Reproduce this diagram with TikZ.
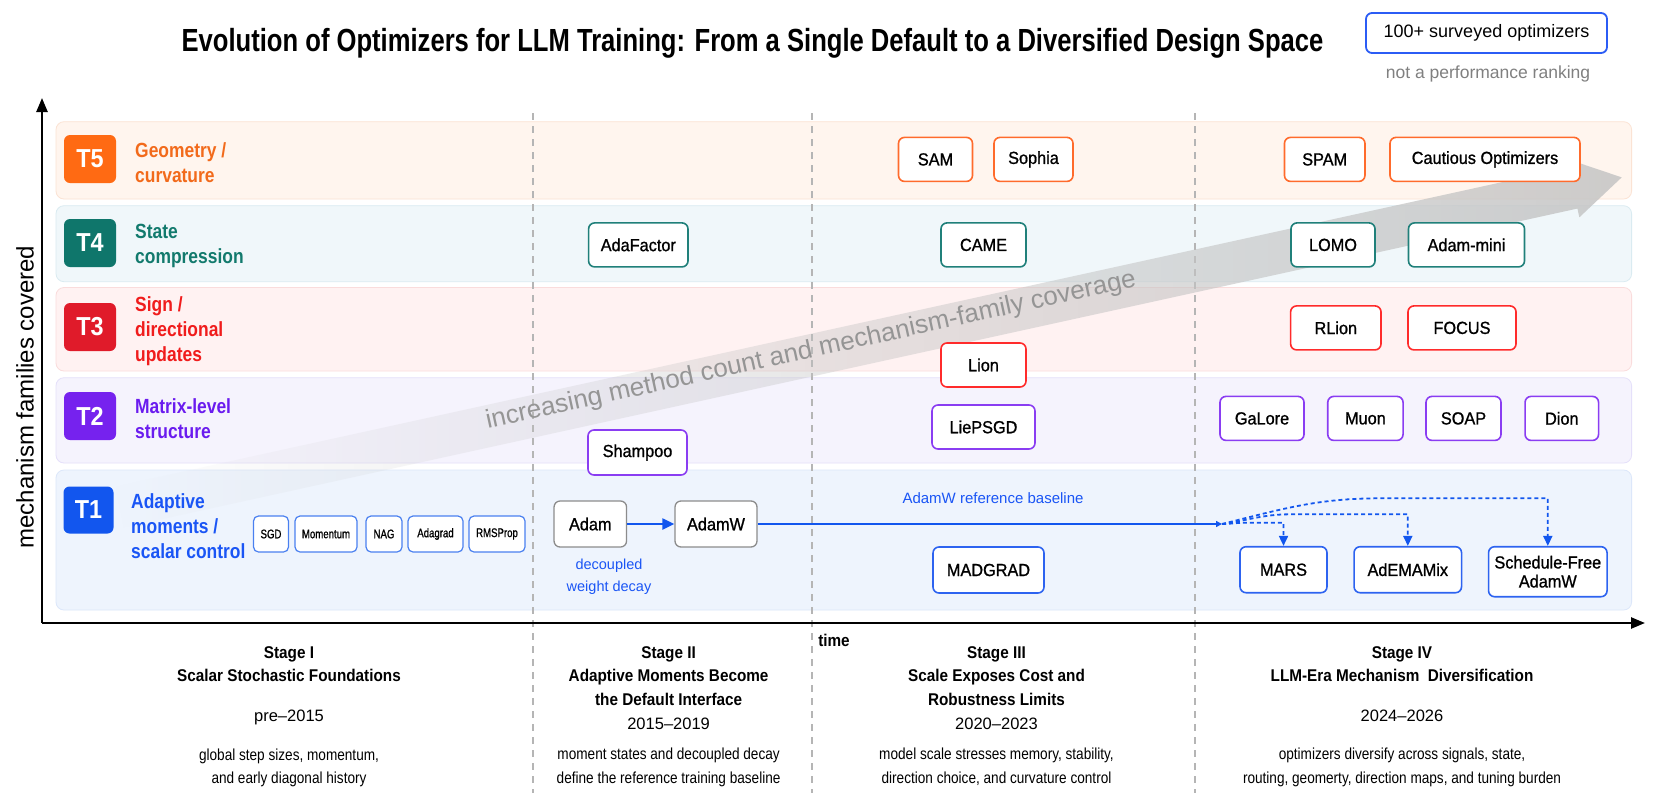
\documentclass[tikz,border=0pt]{standalone}
\usepackage{fontspec}
\setmainfont{Liberation Sans}
\newfontfamily\condA[FakeStretch=0.8]{Liberation Sans}
\newfontfamily\condB[FakeStretch=0.9]{Liberation Sans}
\newfontfamily\condC[FakeStretch=0.85]{Liberation Sans}
\newfontfamily\condD[FakeStretch=0.77,FakeBold=1.0]{Liberation Sans}
\newfontfamily\condM[FakeStretch=0.93,FakeBold=1.0]{Liberation Sans}
\usetikzlibrary{arrows.meta,fadings,calc}
\definecolor{t5c}{HTML}{FF6A13}\definecolor{t5t}{HTML}{F26A1B}
\definecolor{t5bg}{HTML}{FFF5EE}\definecolor{t5bd}{HTML}{FBE3D4}
\definecolor{t4c}{HTML}{0F766B}\definecolor{t4t}{HTML}{127A6D}
\definecolor{t4bg}{HTML}{F0F7FA}\definecolor{t4bd}{HTML}{DAEBF1}
\definecolor{t3c}{HTML}{E01B2A}\definecolor{t3t}{HTML}{F01C1C}
\definecolor{t3bg}{HTML}{FFF2F2}\definecolor{t3bd}{HTML}{FADCDC}
\definecolor{t2c}{HTML}{7622EE}\definecolor{t2t}{HTML}{6A1BEF}
\definecolor{t2bg}{HTML}{F5F3FD}\definecolor{t2bd}{HTML}{E5E0FA}
\definecolor{t1c}{HTML}{1256EE}\definecolor{t1t}{HTML}{1A55F5}
\definecolor{t1bg}{HTML}{EEF4FD}\definecolor{t1bd}{HTML}{DCE7FA}
\definecolor{b5}{HTML}{FF6B2C}\definecolor{b4}{HTML}{20807A}
\definecolor{b3}{HTML}{FF2B2B}\definecolor{b2}{HTML}{8A3DF2}
\definecolor{b1}{HTML}{2D63F0}\definecolor{bsm}{HTML}{4A80F0}
\definecolor{bgr}{HTML}{8C8C8C}\definecolor{divc}{HTML}{B5B5B5}
\definecolor{bandg}{HTML}{C4C4C4}\definecolor{bandt}{HTML}{959595}
\definecolor{lgd}{HTML}{2B5CF5}\definecolor{note}{HTML}{808080}
\tikzfading[name=bandfade, left color=transparent!100, middle color=transparent!20, right color=transparent!0]
\begin{document}
\begin{tikzpicture}[x=1pt,y=-1pt,
  lane/.style={rounded corners=8pt, line width=0.8pt},
  badge/.style={rounded corners=6pt, minimum width=52pt, minimum height=48pt, inner sep=0pt, text=white, font=\condB\bfseries\fontsize{26}{26}\selectfont},
  lanetxt/.style={anchor=west, align=left, inner sep=0pt, font=\condC\bfseries\fontsize{20.5}{25}\selectfont},
  opt/.style={draw, fill=white, rounded corners=6pt, line width=1.6pt, inner sep=0pt, minimum height=44pt, text=black, font=\condM\fontsize{17.5}{19}\selectfont},
  smallopt/.style={opt, draw=bsm, line width=1.2pt, rounded corners=5pt, minimum height=36pt, font=\condD\fontsize{12.5}{14}\selectfont},
  divider/.style={divc, line width=1.2pt, dash pattern=on 7pt off 6pt},
  axis/.style={line width=2.4pt, -{Triangle[length=14pt,width=11pt]}},
  stgt/.style={anchor=base, font=\condB\bfseries\fontsize{17}{20}\selectfont},
  stgy/.style={anchor=base, font=\fontsize{16.5}{20}\selectfont},
  stgc/.style={anchor=base, font=\condC\fontsize{16}{20}\selectfont},
  bline/.style={t1c, line width=2.2pt},
  dasharr/.style={t1c, line width=1.8pt, dash pattern=on 4pt off 3pt, -{Triangle[length=10pt,width=9pt]}}
]
\path[use as bounding box, fill=white] (0,0) rectangle (1664,806);

% title and legend
\node[anchor=base, inner sep=0pt, font=\condA\bfseries\fontsize{32}{38}\selectfont] (title) at (752.5,51.7) {Evolution of Optimizers for LLM Training: From a Single Default to a Diversified Design Space};
\node[draw=lgd, line width=1.8pt, rounded corners=6pt, minimum width=241pt, minimum height=40pt, inner sep=0pt, font=\fontsize{18}{20}\selectfont] (legend) at (1486.5,33) {100+ surveyed optimizers};
\node[text=note, font=\fontsize{17.5}{20}\selectfont] (legendnote) at (1488,74) {not a performance ranking};

% lanes
\path[lane, fill=t5bg, draw=t5bd] (56,121.7) rectangle (1631.6,199);
\path[lane, fill=t4bg, draw=t4bd] (56,205.7) rectangle (1631.6,281.7);
\path[lane, fill=t3bg, draw=t3bd] (56,287.5) rectangle (1631.6,371);
\path[lane, fill=t2bg, draw=t2bd] (56,377.7) rectangle (1631.6,463);
\path[lane, fill=t1bg, draw=t1bd] (56,470) rectangle (1631.6,610);

% stage dividers
\draw[divider] (533,113) -- (533,793);
\draw[divider] (812,113) -- (812,793);
\draw[divider] (1195,113) -- (1195,793);

% trend band
\begin{scope}[shift={(120,507)}, rotate=12.37]
\fill[bandg, fill opacity=0.85, path fading=bandfade] (0,-21) -- (1490,-21) -- (1490,-30) -- (1540,0) -- (1490,30) -- (1490,21) -- (0,21) -- cycle;
\end{scope}
\node[rotate=12.37, text=bandt, inner sep=0pt, font=\fontsize{26}{30}\selectfont] (bandlabel) at (811,351) {increasing method count and mechanism-family coverage};

% badges and lane labels
\node[badge, fill=t5c] (bt5) at (90,159) {T5};
\node[badge, fill=t4c] (bt4) at (90,243) {T4};
\node[badge, fill=t3c] (bt3) at (90,327) {T3};
\node[badge, fill=t2c] (bt2) at (90,416) {T2};
\node[badge, fill=t1c, minimum width=50pt, minimum height=47pt] (bt1) at (88.5,510) {T1};
\node[lanetxt, text=t5t] (l5) at (135,162.5) {Geometry /\\curvature};
\node[lanetxt, text=t4t] (l4) at (135,245.5) {State\\compression};
\node[lanetxt, text=t3t] (l3) at (135,331.5) {Sign /\\directional\\updates};
\node[lanetxt, text=t2t] (l2) at (135,419) {Matrix-level\\structure};
\node[lanetxt, text=t1t] (l1) at (131,526) {Adaptive\\moments /\\scalar control};

% optimizer boxes
\node[opt, draw=b5, minimum width=74pt] (sam) at (935.5,159.4) {SAM};
\node[opt, draw=b5, minimum width=79pt] (sophia) at (1033.5,159.4) {Sophia};
\node[opt, draw=b5, minimum width=80.5pt] (spam) at (1324.7,159.4) {SPAM};
\node[opt, draw=b5, minimum width=190pt] (cautious) at (1485,159.4) {Cautious Optimizers};
\node[opt, draw=b4, minimum width=99.4pt] (adafactor) at (638.3,244.9) {AdaFactor};
\node[opt, draw=b4, minimum width=85pt] (came) at (983.5,244.9) {CAME};
\node[opt, draw=b4, minimum width=84pt] (lomo) at (1333,244.9) {LOMO};
\node[opt, draw=b4, minimum width=116pt] (adammini) at (1466.5,244.9) {Adam-mini};
\node[opt, draw=b3, minimum width=90.4pt] (rlion) at (1335.8,327.9) {RLion};
\node[opt, draw=b3, minimum width=108pt] (focus) at (1462,327.9) {FOCUS};
\node[opt, draw=b3, minimum width=85pt] (lion) at (983.5,365) {Lion};
\node[opt, draw=b2, minimum width=103pt] (liepsgd) at (983.5,427) {LiePSGD};
\node[opt, draw=b2, minimum width=99pt, minimum height=45pt] (shampoo) at (637.5,452.5) {Shampoo};
\node[opt, draw=b2, minimum width=84pt] (galore) at (1262,418.4) {GaLore};
\node[opt, draw=b2, minimum width=75.3pt] (muon) at (1365.4,418.4) {Muon};
\node[opt, draw=b2, minimum width=75pt] (soap) at (1463.5,418.4) {SOAP};
\node[opt, draw=b2, minimum width=73.5pt] (dion) at (1561.8,418.4) {Dion};
\node[opt, draw=bgr, line width=1.3pt, minimum width=72.5pt, minimum height=46pt] (adam) at (590.3,524) {Adam};
\node[opt, draw=bgr, line width=1.3pt, minimum width=82pt, minimum height=46pt] (adamw) at (716,524) {AdamW};
\node[opt, draw=b1, minimum width=111pt, minimum height=46pt] (madgrad) at (988.5,570) {MADGRAD};
\node[opt, draw=b1, minimum width=87pt, minimum height=46pt] (mars) at (1283.5,569.7) {MARS};
\node[opt, draw=b1, minimum width=107.5pt, minimum height=46pt] (ademamix) at (1407.8,569.7) {AdEMAMix};
\node[opt, draw=b1, minimum width=118.5pt, minimum height=50pt, align=center] (sfree) at (1547.8,571.7) {Schedule-Free\\AdamW};
\node[smallopt, minimum width=35pt] (sgd) at (271,534) {SGD};
\node[smallopt, minimum width=62pt] (momentum) at (326,534) {Momentum};
\node[smallopt, minimum width=36pt] (nag) at (384,534) {NAG};
\node[smallopt, minimum width=55pt] (adagrad) at (435.5,534) {Adagrad};
\node[smallopt, minimum width=56pt] (rmsprop) at (497,534) {RMSProp};

% baseline connectors
\coordinate (split) at (1222,524);
\draw[bline, -{Triangle[length=12pt,width=11pt]}] (adam) -- (adamw);
\draw[bline, -{Triangle[length=6pt,width=6pt]}] (adamw) -- (split);
\draw[dasharr] (split) to[out=0,in=180] (1245,522.7) -| (mars.north);
\draw[dasharr] (split) to[out=8,in=180] (1290,514.3) -| (ademamix.north);
\draw[dasharr] (split) to[out=14,in=180] (1380,498.3) -| (sfree.north);
\node[text=t1t, font=\fontsize{15}{18}\selectfont] (baselinelbl) at (993,498) {AdamW reference baseline};
\node[text=t1t, align=center, inner sep=0pt, font=\fontsize{14.5}{22}\selectfont] (decay) at (609,577) {decoupled\\weight decay};

% axes
\coordinate (origin) at (42,623);
\coordinate (ytop) at (42,98);
\coordinate (xend) at (1645,623);
\draw[axis] (origin) -- (ytop);
\draw[axis] (origin) -- (xend);
\node[rotate=90, font=\fontsize{24}{28}\selectfont] (ylabel) at (25,397) {mechanism families covered};
\node[font=\condB\bfseries\fontsize{17}{20}\selectfont] (timelbl) at (834,640) {time};

% stage descriptions
\node[stgt] (s1a) at (289,658) {Stage I};
\node[stgt] (s1b) at (289,681) {Scalar Stochastic Foundations};
\node[stgy] (s1y) at (289,721) {pre–2015};
\node[stgc] (s1c) at (289,760) {global step sizes, momentum,};
\node[stgc] (s1d) at (289,783) {and early diagonal history};

\node[stgt] (s2a) at (668.6,658) {Stage II};
\node[stgt] (s2b) at (668.6,681) {Adaptive Moments Become};
\node[stgt] (s2c) at (668.6,705) {the Default Interface};
\node[stgy] (s2y) at (668.6,729) {2015–2019};
\node[stgc] (s2d) at (668.6,759) {moment states and decoupled decay};
\node[stgc] (s2e) at (668.6,783) {define the reference training baseline};

\node[stgt] (s3a) at (996.5,658) {Stage III};
\node[stgt] (s3b) at (996.5,681) {Scale Exposes Cost and};
\node[stgt] (s3c) at (996.5,705) {Robustness Limits};
\node[stgy] (s3y) at (996.5,729) {2020–2023};
\node[stgc] (s3d) at (996.5,759) {model scale stresses memory, stability,};
\node[stgc] (s3e) at (996.5,783) {direction choice, and curvature control};

\node[stgt] (s4a) at (1402,658) {Stage IV};
\node[stgt] (s4b) at (1402,681) {LLM-Era Mechanism\ \ Diversification};
\node[stgy] (s4y) at (1402,721) {2024–2026};
\node[stgc] (s4c) at (1402,759) {optimizers diversify across signals, state,};
\node[stgc] (s4d) at (1402,783) {routing, geomerty, direction maps, and tuning burden};
\end{tikzpicture}
\end{document}
